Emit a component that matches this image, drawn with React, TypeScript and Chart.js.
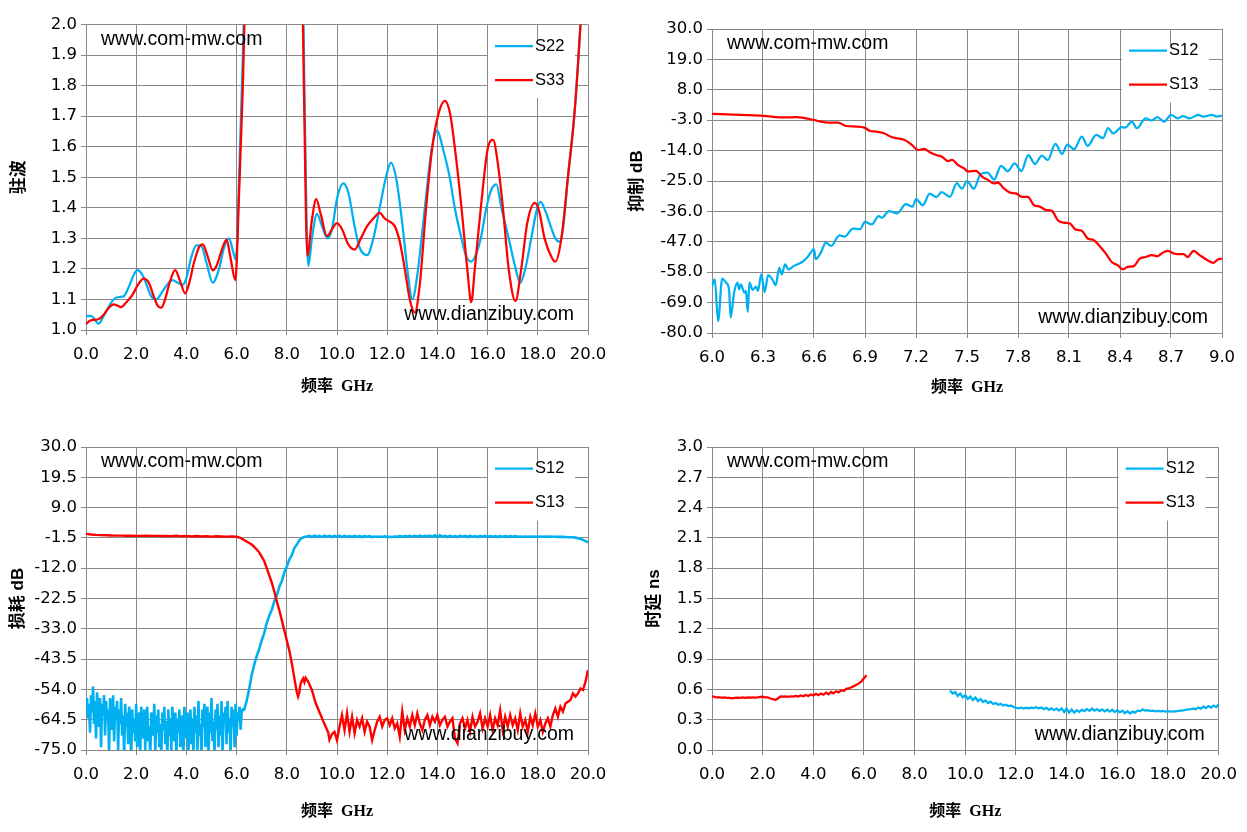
import React, { useEffect, useRef } from "react";
import { Chart, registerables } from "chart.js";

Chart.register(...registerables);

// ---------------- data ----------------
// Panel 1: VSWR (驻波) vs frequency, 0-20 GHz
const s22Freq = [0,0.2,0.35,0.5,0.7,0.9,1.1,1.3,1.5,1.7,1.9,2.05,2.25,2.45,2.6,2.8,3.0,3.2,3.45,3.65,3.85,4.0,4.2,4.4,4.6,4.8,5.05,5.3,5.5,5.7,5.85,5.97,6.1,6.25,6.4,7.5,8.6,8.7,8.8,8.86,9.0,9.2,9.4,9.62,9.8,10.0,10.25,10.45,10.7,10.9,11.2,11.45,11.7,11.95,12.15,12.35,12.6,12.8,13.0,13.2,13.5,13.75,14.0,14.2,14.49,14.69,14.96,15.15,15.35,15.55,15.73,15.95,16.15,16.35,16.55,16.84,17.12,17.3,17.5,17.74,17.95,18.11,18.3,18.47,18.7,18.87,19.0,19.2,19.47,19.7,19.9];
const s22Vswr = [1.045,1.046,1.035,1.02,1.045,1.075,1.10,1.108,1.11,1.14,1.18,1.196,1.18,1.14,1.11,1.10,1.12,1.145,1.163,1.155,1.148,1.17,1.24,1.277,1.275,1.22,1.155,1.20,1.27,1.30,1.26,1.23,1.5,1.9,2.4,null,2.4,1.8,1.3,1.21,1.30,1.38,1.34,1.30,1.33,1.43,1.48,1.45,1.34,1.27,1.245,1.30,1.40,1.50,1.548,1.50,1.35,1.20,1.10,1.18,1.40,1.58,1.653,1.60,1.50,1.40,1.30,1.24,1.224,1.25,1.30,1.40,1.46,1.477,1.40,1.30,1.20,1.154,1.20,1.30,1.39,1.419,1.39,1.35,1.30,1.289,1.33,1.50,1.72,2.0,2.3];
const s33Freq = [0,0.15,0.3,0.5,0.7,0.9,1.1,1.25,1.4,1.6,1.85,2.05,2.3,2.5,2.7,2.85,3.0,3.15,3.35,3.55,3.75,3.95,4.1,4.3,4.5,4.65,4.85,5.05,5.2,5.4,5.6,5.75,5.95,6.1,6.25,6.4,7.5,8.55,8.68,8.82,9.0,9.17,9.35,9.6,9.8,10.0,10.2,10.45,10.7,10.95,11.2,11.45,11.7,11.9,12.1,12.3,12.5,12.7,12.9,13.1,13.3,13.55,13.8,14.05,14.3,14.5,14.69,14.96,15.19,15.35,15.49,15.73,16.02,16.22,16.4,16.61,16.84,17.11,17.34,17.58,17.88,18.05,18.27,18.54,18.7,18.94,19.2,19.47,19.7,19.9];
const s33Vswr = [1.02,1.03,1.033,1.035,1.05,1.072,1.084,1.08,1.075,1.09,1.115,1.145,1.168,1.155,1.11,1.08,1.073,1.10,1.16,1.196,1.16,1.12,1.15,1.22,1.27,1.28,1.24,1.195,1.21,1.26,1.296,1.24,1.163,1.45,1.8,2.3,null,2.5,1.8,1.242,1.36,1.428,1.38,1.307,1.33,1.35,1.33,1.28,1.263,1.30,1.34,1.365,1.383,1.365,1.355,1.34,1.29,1.20,1.10,1.057,1.15,1.40,1.60,1.71,1.75,1.71,1.60,1.40,1.20,1.091,1.20,1.40,1.60,1.622,1.55,1.40,1.20,1.095,1.20,1.35,1.416,1.39,1.30,1.24,1.224,1.30,1.50,1.717,2.0,2.3];

// Panel 2: rejection (抑制 dB), 6-9 GHz
const rej12Freq = [6.000,6.016,6.036,6.060,6.083,6.100,6.110,6.130,6.150,6.160,6.170,6.190,6.200,6.210,6.220,6.240,6.260,6.270,6.290,6.310,6.330,6.355,6.375,6.395,6.410,6.430,6.450,6.480,6.500,6.530,6.560,6.600,6.610,6.640,6.670,6.700,6.750,6.780,6.830,6.870,6.900,6.940,6.980,7.000,7.040,7.090,7.140,7.180,7.200,7.240,7.280,7.320,7.350,7.400,7.440,7.470,7.500,7.540,7.580,7.620,7.660,7.700,7.740,7.780,7.820,7.860,7.900,7.940,7.975,8.020,8.060,8.090,8.130,8.175,8.210,8.260,8.300,8.330,8.360,8.410,8.430,8.470,8.500,8.550,8.585,8.620,8.660,8.700,8.740,8.770,8.810,8.860,8.890,8.940,8.970,9.000];
const rej12Db = [-63.0,-60.6,-75.7,-60.3,-61.8,-64.2,-74.4,-65.4,-61.8,-64.2,-62.4,-65.4,-64.8,-72.4,-61.8,-64.4,-63.2,-64.8,-58.8,-65.2,-59.1,-60.6,-62.7,-56.4,-58.8,-55.2,-57.0,-55.8,-55.2,-54.3,-52.7,-49.7,-53.3,-50.9,-47.3,-48.5,-44.7,-45.1,-42.2,-42.5,-39.8,-40.7,-37.7,-38.3,-35.9,-36.7,-33.4,-34.3,-31.6,-33.8,-29.6,-30.8,-29.0,-30.7,-25.8,-27.8,-25.0,-27.8,-22.5,-22.0,-24.5,-19.5,-21.5,-18.6,-21.4,-15.6,-18.8,-15.8,-17.4,-11.6,-15.2,-11.8,-13.5,-8.9,-12.3,-8.3,-9.5,-5.9,-7.8,-5.5,-5.7,-3.5,-5.9,-2.3,-3.1,-1.9,-3.5,-1.1,-2.3,-1.5,-2.3,-1.1,-1.7,-1.1,-1.7,-1.3];
const rej13Freq = [6.000,6.167,6.301,6.425,6.496,6.599,6.637,6.684,6.742,6.789,6.848,6.897,6.930,6.965,7.012,7.048,7.083,7.130,7.177,7.212,7.247,7.283,7.318,7.353,7.388,7.412,7.447,7.482,7.506,7.553,7.588,7.623,7.658,7.682,7.717,7.752,7.788,7.823,7.858,7.893,7.929,7.964,7.999,8.034,8.069,8.105,8.140,8.175,8.210,8.246,8.281,8.316,8.351,8.387,8.417,8.445,8.481,8.516,8.551,8.586,8.622,8.645,8.680,8.716,8.739,8.774,8.798,8.833,8.868,8.915,8.950,8.976,9.000];
const rej13Db = [-0.7,-1.1,-1.4,-2.0,-1.9,-2.9,-3.5,-3.9,-3.9,-5.1,-5.3,-5.7,-6.9,-7.1,-7.7,-8.9,-9.5,-10.1,-12.0,-13.8,-13.4,-14.7,-15.6,-16.2,-17.8,-17.4,-19.2,-20.4,-21.6,-21.3,-23.4,-24.6,-25.9,-25.6,-27.7,-29.2,-29.5,-30.7,-30.7,-33.7,-34.3,-35.5,-35.8,-39.2,-40.1,-40.4,-42.6,-43.0,-45.8,-46.4,-48.6,-51.2,-54.3,-55.5,-57.0,-56.1,-55.8,-53.1,-52.5,-51.8,-52.2,-51.2,-50.3,-51.2,-51.5,-51.5,-52.5,-50.3,-51.8,-53.7,-54.6,-53.4,-53.1];

// Panel 3: loss (损耗 dB), 0-20 GHz
const loss12NoiseStart = 0, loss12NoiseStep = 0.04;
const loss12NoiseDb = [
  -61,-57,-64,-59,-69,-56,-62,-53,-66,-58,
  -71,-55,-60,-67,-57,-74,-59,-63,-56,-70,
  -58,-65,-61,-76,-57,-62,-68,-56,-72,-60,
  -64,-58,-75,-61,-66,-57,-70,-63,-77,-59,
  -67,-62,-73,-60,-65,-78,-61,-69,-64,-72,
  -59,-74,-66,-62,-77,-60,-68,-71,-61,-75,
  -64,-60,-72,-67,-78,-62,-65,-70,-59,-76,
  -63,-69,-61,-74,-66,-77,-62,-68,-60,-73,
  -65,-78,-61,-70,-64,-75,-60,-67,-72,-62,
  -77,-64,-69,-61,-74,-66,-63,-78,-60,-71,
  -65,-62,-76,-68,-61,-73,-64,-78,-60,-69,
  -63,-75,-58,-70,-66,-77,-61,-67,-59,-74,
  -64,-60,-78,-62,-69,-57,-72,-65,-76,-61,
  -68,-59,-74,-63,-70,-58,-77,-62,-66,-60,
  -73,-58,-69,-64,-76,-60,-67,-61,-74,-59,
  -70,-62,-65,-60,-68,-62,-61,
];
const loss12RiseFreq = [6.3,6.4,6.5,6.6,6.7,6.8,6.9,7.0,7.1,7.2,7.3,7.4,7.5,7.6,7.7,7.8,7.9,8.0,8.1,8.2,8.3,8.4,8.5,8.6,8.7];
const loss12RiseDb = [-61,-58,-54,-49,-45.5,-42.5,-40,-37,-34.5,-31,-28.5,-26.5,-23.5,-21.5,-18.5,-16.5,-13.5,-11.5,-9,-7.5,-5,-3.8,-2.3,-1.5,-1.2];
const loss12FlatStart = 8.8, loss12FlatStep = 0.1;
const loss12FlatDb = [
  -1.0,-0.8,
  -1.2,-0.7,-1.1,-0.8,-1.2,-0.7,-1.1,-0.8,-1.2,-0.8,
  -1.1,-0.7,-1.2,-0.8,-1.1,-0.9,-1.2,-0.8,-1.1,-0.9,
  -1.2,-0.9,-1.1,-0.9,-1.2,-1.0,-1.1,-1.0,-1.2,-1.0,
  -1.2,-1.1,-1.2,-1.0,-1.1,-0.9,-1.1,-0.9,-1.0,-0.8,
  -1.1,-0.8,-1.0,-0.7,-1.1,-0.8,-1.0,-0.7,-1.1,-0.6,
  -1.2,-0.6,-1.1,-0.8,-1.2,-0.8,-1.1,-0.9,-1.2,-0.8,
  -1.1,-0.8,-1.2,-0.8,-1.1,-0.9,-1.2,-0.8,-1.1,-0.8,
  -1.2,-0.9,-1.1,-0.9,-1.2,-0.9,-1.1,-0.9,-1.1,-0.9,
  -1.1,-0.9,-1.1,-1.0,-1.1,-1.0,-1.1,-1.0,-1.1,-1.0,
  -1.1,-1.0,-1.1,-1.0,-1.1,-1.05,-1.1,-1.1,-1.15,-1.1,
  -1.15,-1.2,-1.25,-1.3,-1.3,-1.4,-1.6,-1.8,-2.2,-2.6,
  -3.0,
];
const loss13Freq = [0,0.2,0.4,0.6,0.8,1.0,1.2,1.4,1.6,1.8,2.0,2.2,2.4,2.6,2.8,3.0,3.2,3.4,3.6,3.8,4.0,4.2,4.4,4.6,4.8,5.0,5.2,5.4,5.6,5.8,6.0,6.15,6.3,6.45,6.6,6.75,6.9,7.0,7.1,7.2,7.3,7.4,7.5,7.6,7.7,7.8,7.9,8.0,8.1,8.2,8.3,8.4,8.45,8.5,8.55,8.6,8.65,8.7,8.75,8.85,9.0,9.15,9.35,9.45,9.55,9.65,9.7,9.8,9.9];
const loss13Db = [-0.1,-0.3,-0.45,-0.55,-0.6,-0.65,-0.7,-0.7,-0.75,-0.75,-0.8,-0.8,-0.75,-0.8,-0.8,-0.85,-0.8,-0.9,-0.7,-0.95,-0.8,-1.0,-0.85,-1.0,-0.9,-1.05,-0.95,-1.0,-1.05,-1.0,-1.1,-1.5,-2.2,-3.0,-3.8,-5.0,-6.5,-8.0,-9.5,-12,-14.5,-17,-20,-23.5,-26.5,-30,-33.5,-37,-40.5,-45,-50,-55,-56.5,-55,-52,-51,-50.2,-51.5,-50,-51.3,-54.2,-58.8,-62.9,-65,-66.9,-69,-71.5,-69.5,-68.7];
const loss13NoiseStart = 10.0, loss13NoiseStep = 0.1;
const loss13NoiseDb = [
  -71.6,-66.9,-62.9,-68.1,-62.3,-68.7,-63.5,-69.2,-64.6,-66.9,
  -64.0,-68.7,-65.2,-66.9,-71.6,-68.1,-65.2,-63.5,-66.9,-64.6,
  -64.0,-66.4,-64.0,-67.5,-65.8,-70.4,-61.7,-68.1,-64.0,-66.9,
  -62.9,-66.4,-62.3,-65.8,-68.1,-64.6,-62.9,-66.4,-63.5,-65.2,
  -62.9,-66.4,-64.6,-63.5,-66.9,-65.2,-64.0,-71.0,-72.7,-65.8,
  -64.0,-67.5,-64.6,-68.7,-63.5,-66.9,-65.2,-62.3,-67.5,-64.0,
  -66.9,-62.9,-68.1,-64.0,-66.4,-61.2,-68.1,-63.5,-66.9,-62.9,
  -66.4,-64.0,-68.1,-62.3,-66.9,-64.6,-68.7,-63.5,-66.4,-62.3,
  -66.9,-64.6,-68.7,-65.8,-64.0,-66.9,-62.9,-60.6,-63.5,-60.0,
  -61.7,-58.9,-58.3,-57.7,-55.4,-56.5,-55.4,-53.7,-54.2,-51.3,
  -47.3,
];

// Panel 4: group delay (时延 ns), 0-20 GHz
const delay13Start = 0, delay13Step = 0.1;
const delay13Ns = [
  0.53,0.525,0.52,0.52,0.518,0.52,0.515,0.517,0.512,0.515,
  0.518,0.515,0.52,0.517,0.52,0.518,0.522,0.518,0.52,0.525,
  0.528,0.522,0.52,0.51,0.505,0.495,0.51,0.53,0.528,0.53,
  0.527,0.532,0.528,0.535,0.53,0.54,0.532,0.545,0.535,0.55,
  0.54,0.556,0.543,0.56,0.547,0.568,0.552,0.575,0.56,0.582,
  0.57,0.592,0.585,0.605,0.61,0.622,0.632,0.645,0.66,0.68,
  0.71,0.74,
];
const delay12Start = 9.4, delay12Step = 0.1;
const delay12Ns = [
  0.59,0.56,0.575,0.535,0.56,0.52,
  0.545,0.505,0.53,0.495,0.52,0.485,0.505,0.475,0.49,0.465,
  0.478,0.455,0.465,0.448,0.458,0.44,0.448,0.435,0.44,0.425,
  0.418,0.412,0.42,0.41,0.418,0.412,0.42,0.415,0.423,0.412,
  0.42,0.405,0.418,0.398,0.413,0.395,0.41,0.39,0.412,0.375,
  0.41,0.37,0.4,0.37,0.395,0.378,0.398,0.385,0.405,0.388,
  0.41,0.39,0.405,0.385,0.402,0.382,0.4,0.38,0.398,0.375,
  0.395,0.372,0.39,0.365,0.385,0.362,0.38,0.37,0.39,0.385,
  0.4,0.39,0.395,0.385,0.39,0.383,0.388,0.382,0.386,0.38,
  0.384,0.38,0.383,0.382,0.386,0.39,0.393,0.398,0.402,0.405,
  0.41,0.405,0.42,0.41,0.43,0.415,0.435,0.42,0.44,0.425,
  0.45,
];

// axis texts
const X_TITLE = "频率  GHz";
const Y_TITLES = ["驻波", "抑制 dB", "损耗 dB", "时延 ns"];
const MARK_TOP = "www.com-mw.com";
const MARK_BOTTOM = "www.dianzibuy.com";

// ---------------- helpers ----------------
type Pt = { x: number; y: number | null };
const pairs = (xs: number[], ys: (number | null)[]): Pt[] =>
  xs.slice(0, Math.min(xs.length, ys.length)).map((x, i) => ({ x, y: ys[i] }));
const grid = (start: number, step: number, ys: number[]): Pt[] =>
  ys.map((y, i) => ({ x: Math.round((start + i * step) * 1000) / 1000, y }));

const BLUE = "#00B0F0";
const RED = "#FF0000";
const GRID_C = "#888888";
const TICK_FONT = { family: "'DejaVu Sans', sans-serif", size: 16.5 };
const Y_TITLE_FONT = { family: "'Liberation Sans', 'Noto Sans CJK SC', sans-serif", size: 17, weight: "bold" as const };
const X_TITLE_FONT = { family: "'Liberation Serif', 'Noto Sans CJK SC', serif", size: 16, weight: "bold" as const };

interface Frame { w: number; h: number; pl: number; pr: number; pt: number; pb: number; yw: number; xh: number; }

const decor = {
  id: "decor",
  beforeDatasetsDraw(chart: any) {
    const { ctx, chartArea: a } = chart;
    ctx.save();
    ctx.fillStyle = "#ffffff";
    ctx.fillRect(a.right - 100, a.top + 16.5, 87, 57);
    chart.data.datasets.forEach((ds: any, i: number) => {
      const y = a.top + 21.5 + i * 34;
      ctx.strokeStyle = ds.borderColor;
      ctx.lineWidth = 2.25;
      ctx.beginPath();
      ctx.moveTo(a.right - 93, y);
      ctx.lineTo(a.right - 55, y);
      ctx.stroke();
      ctx.fillStyle = "#000";
      ctx.font = "16.5px 'Liberation Sans', sans-serif";
      ctx.textBaseline = "middle";
      ctx.textAlign = "left";
      ctx.fillText(ds.label, a.right - 53, y);
    });
    ctx.restore();
  },
  afterDatasetsDraw(chart: any) {
    const { ctx, chartArea: a } = chart;
    ctx.save();
    ctx.fillStyle = "#000";
    ctx.font = "19.5px 'Liberation Sans', sans-serif";
    ctx.textBaseline = "middle";
    ctx.textAlign = "left";
    ctx.fillText(MARK_TOP, a.left + 15, a.top + 15);
    ctx.textAlign = "right";
    ctx.fillText(MARK_BOTTOM, a.right - 14, a.bottom - 15);
    ctx.restore();
  },
};

function line(label: string, color: string, data: Pt[], smooth: boolean, order: number, width = 2.25) {
  return {
    label,
    data,
    borderColor: color,
    backgroundColor: color,
    borderWidth: width,
    pointRadius: 0,
    pointHoverRadius: 0,
    fill: false,
    spanGaps: false,
    tension: 0,
    cubicInterpolationMode: smooth ? ("monotone" as const) : ("default" as const),
    order,
  };
}

function makeConfig(
  f: Frame,
  datasets: any[],
  xr: [number, number, number],
  yr: [number, number, number],
  yTitle: string
): any {
  const fmt = (v: any) => Number(v).toFixed(1);
  return {
    type: "line",
    data: { datasets },
    plugins: [decor],
    options: {
      animation: false,
      responsive: false,
      maintainAspectRatio: false,
      events: [],
      layout: { padding: { left: f.pl, right: f.pr, top: f.pt, bottom: f.pb } },
      plugins: { legend: { display: false }, tooltip: { enabled: false } },
      scales: {
        x: {
          type: "linear",
          min: xr[0],
          max: xr[1],
          ticks: { stepSize: xr[2], callback: fmt, font: TICK_FONT, color: "#000", padding: 10, maxRotation: 0, autoSkip: false },
          grid: { color: GRID_C, lineWidth: 1, tickLength: 5, tickColor: GRID_C, drawTicks: true },
          border: { display: true, color: GRID_C, width: 1 },
          title: { display: true, text: X_TITLE, font: X_TITLE_FONT, color: "#000", padding: { top: 4, bottom: 4 } },
          afterFit: (s: any) => { s.height = f.xh; },
        },
        y: {
          type: "linear",
          min: yr[0],
          max: yr[1],
          ticks: { stepSize: yr[2], callback: fmt, font: TICK_FONT, color: "#000", padding: 4, autoSkip: false },
          grid: { color: GRID_C, lineWidth: 1, tickLength: 5, tickColor: GRID_C, drawTicks: true },
          border: { display: true, color: GRID_C, width: 1 },
          title: { display: true, text: yTitle, font: Y_TITLE_FONT, color: "#000", padding: { top: 4, bottom: 4 } },
          afterFit: (s: any) => { s.width = f.yw; },
        },
      },
    },
  };
}

const F1: Frame = { w: 620, h: 415, pl: 5, pr: 32, pt: 24.5, pb: 14.4, yw: 81, xh: 70.6 };
const F2: Frame = { w: 627, h: 415, pl: 3, pr: 25, pt: 29, pb: 13.4, yw: 89, xh: 68.6 };
const F3: Frame = { w: 620, h: 417, pl: 4, pr: 32, pt: 32, pb: 6.7, yw: 82, xh: 75.3 };
const F4: Frame = { w: 627, h: 417, pl: 20, pr: 26, pt: 32, pb: 6.7, yw: 72, xh: 75.3 };

const builders: (() => any)[] = [
  () =>
    makeConfig(
      F1,
      [
        line("S22", BLUE, pairs(s22Freq, s22Vswr), true, 1),
        line("S33", RED, pairs(s33Freq, s33Vswr), true, 0),
      ],
      [0, 20, 2],
      [1, 2, 0.1],
      Y_TITLES[0]
    ),
  () =>
    makeConfig(
      F2,
      [
        line("S12", BLUE, pairs(rej12Freq, rej12Db), true, 1),
        line("S13", RED, pairs(rej13Freq, rej13Db), true, 0),
      ],
      [6, 9, 0.3],
      [-80, 30, 11],
      Y_TITLES[1]
    ),
  () =>
    makeConfig(
      F3,
      [
        line(
          "S12",
          BLUE,
          [
            ...grid(loss12NoiseStart, loss12NoiseStep, loss12NoiseDb),
            ...pairs(loss12RiseFreq, loss12RiseDb),
            ...grid(loss12FlatStart, loss12FlatStep, loss12FlatDb),
          ],
          false,
          1,
          2.6
        ),
        line(
          "S13",
          RED,
          [...pairs(loss13Freq, loss13Db), ...grid(loss13NoiseStart, loss13NoiseStep, loss13NoiseDb)],
          false,
          0,
          2.4
        ),
      ],
      [0, 20, 2],
      [-75, 30, 10.5],
      Y_TITLES[2]
    ),
  () =>
    makeConfig(
      F4,
      [
        line("S12", BLUE, grid(delay12Start, delay12Step, delay12Ns), false, 1, 2.25),
        line("S13", RED, grid(delay13Start, delay13Step, delay13Ns), false, 0, 2.25),
      ],
      [0, 20, 2],
      [0, 3, 0.3],
      Y_TITLES[3]
    ),
];

function Panel({ frame, left, top, build }: { frame: Frame; left: number; top: number; build: () => any }) {
  const ref = useRef<HTMLCanvasElement>(null);
  useEffect(() => {
    if (!ref.current) return;
    const chart = new Chart(ref.current, build());
    return () => chart.destroy();
  }, []);
  return (
    <canvas
      ref={ref}
      width={frame.w}
      height={frame.h}
      style={{ position: "absolute", left, top, width: frame.w, height: frame.h, display: "block" }}
    />
  );
}

export default function App() {
  return (
    <div style={{ position: "absolute", left: 0, top: 0, width: 1247, height: 832, background: "#ffffff", overflow: "hidden" }}>
      <Panel frame={F1} left={0} top={0} build={builders[0]} />
      <Panel frame={F2} left={620} top={0} build={builders[1]} />
      <Panel frame={F3} left={0} top={415} build={builders[2]} />
      <Panel frame={F4} left={620} top={415} build={builders[3]} />
    </div>
  );
}
